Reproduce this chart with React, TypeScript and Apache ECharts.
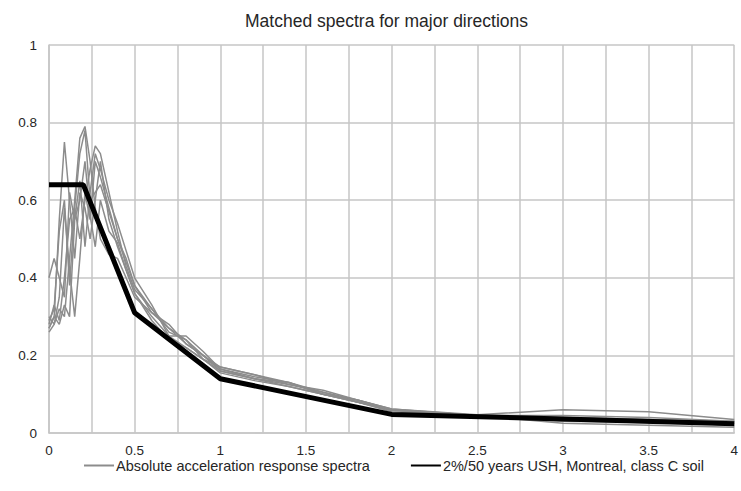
import React, { useEffect, useRef } from "react";
import * as echarts from "echarts";

const title = "Matched spectra for major directions";
const grayName = "Absolute acceleration response spectra";
const targetName = "2%/50 years USH, Montreal, class C soil";

const periods = [0, 0.03, 0.06, 0.09, 0.12, 0.15, 0.18, 0.21, 0.24, 0.27, 0.3, 0.35, 0.4, 0.45, 0.5, 0.6, 0.7, 0.8, 0.9, 1.0, 1.2, 1.4, 1.6, 1.8, 2.0, 2.5, 3.0, 3.5, 4.0];

const spec1 = [0.27, 0.30, 0.55, 0.75, 0.60, 0.45, 0.62, 0.58, 0.50, 0.60, 0.70, 0.55, 0.48, 0.42, 0.36, 0.30, 0.25, 0.22, 0.19, 0.16, 0.14, 0.12, 0.10, 0.08, 0.06, 0.045, 0.035, 0.03, 0.02];
const spec2 = [0.26, 0.28, 0.32, 0.30, 0.45, 0.60, 0.76, 0.79, 0.70, 0.58, 0.50, 0.46, 0.45, 0.40, 0.35, 0.31, 0.27, 0.24, 0.20, 0.16, 0.14, 0.13, 0.10, 0.085, 0.062, 0.047, 0.06, 0.055, 0.035];
const spec3 = [0.28, 0.33, 0.29, 0.40, 0.55, 0.58, 0.50, 0.60, 0.68, 0.74, 0.72, 0.62, 0.52, 0.43, 0.37, 0.32, 0.26, 0.24, 0.19, 0.17, 0.15, 0.13, 0.105, 0.085, 0.06, 0.045, 0.04, 0.035, 0.025];
const spec4 = [0.30, 0.28, 0.35, 0.58, 0.42, 0.30, 0.45, 0.62, 0.55, 0.70, 0.66, 0.58, 0.50, 0.44, 0.38, 0.31, 0.28, 0.23, 0.20, 0.165, 0.145, 0.13, 0.10, 0.08, 0.058, 0.045, 0.045, 0.04, 0.03];
const spec5 = [0.40, 0.45, 0.40, 0.35, 0.62, 0.55, 0.65, 0.48, 0.62, 0.72, 0.68, 0.60, 0.54, 0.47, 0.40, 0.33, 0.25, 0.25, 0.21, 0.165, 0.14, 0.125, 0.11, 0.085, 0.062, 0.045, 0.03, 0.028, 0.025];
const spec6 = [0.27, 0.30, 0.28, 0.33, 0.30, 0.55, 0.60, 0.70, 0.56, 0.48, 0.60, 0.52, 0.49, 0.42, 0.36, 0.29, 0.24, 0.22, 0.19, 0.155, 0.135, 0.12, 0.10, 0.08, 0.055, 0.045, 0.025, 0.02, 0.015];
const spec7 = [0.29, 0.32, 0.52, 0.60, 0.38, 0.58, 0.72, 0.78, 0.60, 0.62, 0.64, 0.57, 0.50, 0.45, 0.38, 0.32, 0.27, 0.23, 0.20, 0.17, 0.15, 0.125, 0.105, 0.08, 0.06, 0.045, 0.04, 0.035, 0.03];
const spectra = [spec1, spec2, spec3, spec4, spec5, spec6, spec7];

const targetPeriods = [0, 0.2, 0.5, 1.0, 2.0, 4.0];
const targetValues = [0.64, 0.64, 0.31, 0.14, 0.048, 0.024];

const xLabels = ["0", "0.5", "1", "1.5", "2", "2.5", "3", "3.5", "4"];

export default function App() {
  const ref = useRef<HTMLDivElement>(null);
  useEffect(() => {
    if (!ref.current) return;
    const chart = echarts.init(ref.current, null, { renderer: "svg" });
    const font = "Liberation Sans, Arial, sans-serif";
    const grayStyle = { color: "#8c8c8c", width: 1.5 };
    const series: any[] = spectra.map((vals) => ({
      name: grayName,
      type: "line",
      data: periods.map((p, i) => [p, vals[i]]),
      showSymbol: false,
      symbol: "none",
      lineStyle: grayStyle,
      itemStyle: { color: "#8c8c8c" },
      z: 2,
    }));
    series.push({
      name: targetName,
      type: "line",
      data: targetPeriods.map((p, i) => [p, targetValues[i]]),
      showSymbol: false,
      symbol: "none",
      lineStyle: { color: "#000", width: 5 },
      itemStyle: { color: "#000" },
      z: 3,
    });
    chart.setOption({
      animation: false,
      title: {
        text: title,
        left: 240,
        top: 7,
        textStyle: { fontFamily: font, fontSize: 17.5, fontWeight: "normal", color: "#262626" },
      },
      legend: {
        bottom: 13,
        left: 78,
        itemWidth: 30,
        itemHeight: 10,
        itemGap: 40,
        itemStyle: { opacity: 0 },
        data: [grayName, targetName],
        textStyle: { fontFamily: font, fontSize: 14.5, color: "#262626", padding: [0, 0, 0, -3] },
      },
      grid: { left: 49, right: 2, top: 45, bottom: 58, containLabel: false },
      xAxis: {
        type: "value",
        min: 0,
        max: 4,
        interval: 0.25,
        axisLine: { show: true, lineStyle: { color: "#c6c6c6", width: 1.5 } },
        axisTick: { show: false },
        splitLine: { show: true, lineStyle: { color: "#c6c6c6", width: 1.5 } },
        axisLabel: {
          margin: 10,
          fontFamily: font,
          fontSize: 13.5,
          color: "#262626",
          formatter: (v: number) => {
            const idx = Math.round(v / 0.5);
            return Math.abs(v - idx * 0.5) < 1e-6 ? xLabels[idx] : "";
          },
        },
      },
      yAxis: {
        type: "value",
        min: 0,
        max: 1,
        interval: 0.2,
        axisLine: { show: true, lineStyle: { color: "#c6c6c6", width: 1.5 } },
        axisTick: { show: false },
        splitLine: { show: true, lineStyle: { color: "#c6c6c6", width: 1.5 } },
        axisLabel: { margin: 12, fontFamily: font, fontSize: 13.5, color: "#262626" },
      },
      series,
    });
    return () => chart.dispose();
  }, []);
  return (
    <div
      ref={ref}
      style={{ position: "fixed", left: 0, top: 0, width: 741, height: 491, background: "#fff" }}
    />
  );
}
